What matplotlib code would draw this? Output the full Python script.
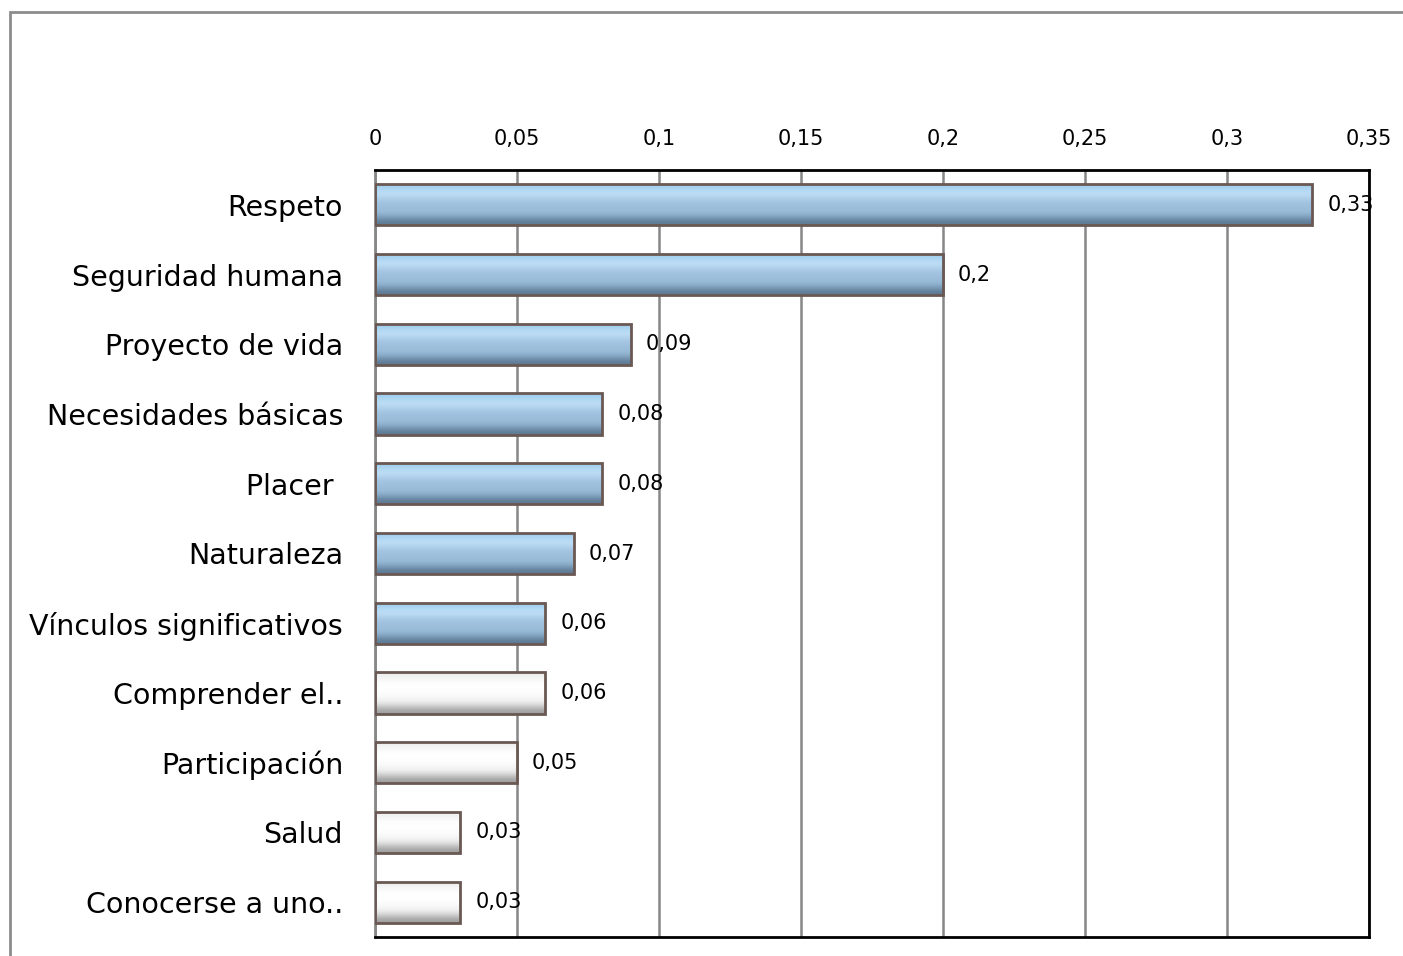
import matplotlib.pyplot as plt
import matplotlib.patches as mpatches
import numpy as np

categories = ["Respeto", "Seguridad humana", "Proyecto de vida", "Necesidades básicas",
              "Placer ", "Naturaleza", "Vínculos significativos", "Comprender el..",
              "Participación", "Salud", "Conocerse a uno.."]
values = [0.33, 0.2, 0.09, 0.08, 0.08, 0.07, 0.06, 0.06, 0.05, 0.03, 0.03]
value_labels = ["0,33", "0,2", "0,09", "0,08", "0,08", "0,07", "0,06", "0,06", "0,05", "0,03", "0,03"]
highlighted = [True] * 7 + [False] * 4
x_ticks = [0, 0.05, 0.1, 0.15, 0.2, 0.25, 0.3, 0.35]
x_tick_labels = ["0", "0,05", "0,1", "0,15", "0,2", "0,25", "0,3", "0,35"]

plt.rcParams['font.family'] = ['DejaVu Sans']

fig = plt.figure(figsize=(14.03, 9.56), dpi=100)
W, H = 1403, 956
ax = fig.add_axes([375 / W, 1 - 937 / H, (1369 - 375) / W, (937 - 170) / H])

# outer chart border (runs off the right and bottom edges)
fig.patches.append(mpatches.Rectangle((9.5 / W, -0.05), 1.1, 1 - 11.5 / H + 0.05,
                                      transform=fig.transFigure, fill=False,
                                      edgecolor="#8c8c8c", linewidth=2))

y = np.arange(len(categories))
bar_h = 0.59

blue_grad = np.array([[0.62, 0.80, 0.93], [0.78, 0.90, 0.98], [0.64, 0.77, 0.89],
                      [0.62, 0.75, 0.86], [0.58, 0.72, 0.84], [0.36, 0.47, 0.57]])
white_grad = np.array([[0.93, 0.93, 0.93], [1.0, 1.0, 1.0], [1.0, 1.0, 1.0],
                       [0.98, 0.98, 0.98], [0.92, 0.92, 0.92], [0.62, 0.62, 0.62]])

bars = ax.barh(y, values, height=bar_h, color="none", edgecolor="#6a5853",
               linewidth=2, zorder=3)
for rect, hl in zip(bars, highlighted):
    grad = blue_grad if hl else white_grad
    x0, y0 = rect.get_x(), rect.get_y()
    w, h = rect.get_width(), rect.get_height()
    img = ax.imshow(grad[:, None, :], extent=(x0, x0 + w, y0 + h, y0),
                    aspect="auto", interpolation="bicubic", zorder=2)
    img.set_clip_path(rect)
    rect.set_zorder(4)

for yi, v, lab in zip(y, values, value_labels):
    ax.text(v + 0.0053, yi, lab, va="center", ha="left", fontsize=15, color="black", zorder=5)

ax.set_xlim(0, 0.35)
ax.set_ylim(len(categories) - 0.5, -0.5)
ax.set_xticks(x_ticks)
ax.set_xticklabels(x_tick_labels, fontsize=15)
ax.xaxis.tick_top()
ax.tick_params(axis="x", length=0, pad=15)
ax.set_yticks(y)
ax.set_yticklabels(categories, fontsize=20.5)
ax.tick_params(axis="y", length=0, pad=23)

ax.grid(axis="x", color="#878787", linewidth=1.8, zorder=0)
ax.set_axisbelow(True)
for side in ["top", "right", "bottom"]:
    ax.spines[side].set_color("black")
    ax.spines[side].set_linewidth(2)
ax.spines["left"].set_color("#878787")
ax.spines["left"].set_linewidth(2)

fig.savefig("out.png", dpi=100)
